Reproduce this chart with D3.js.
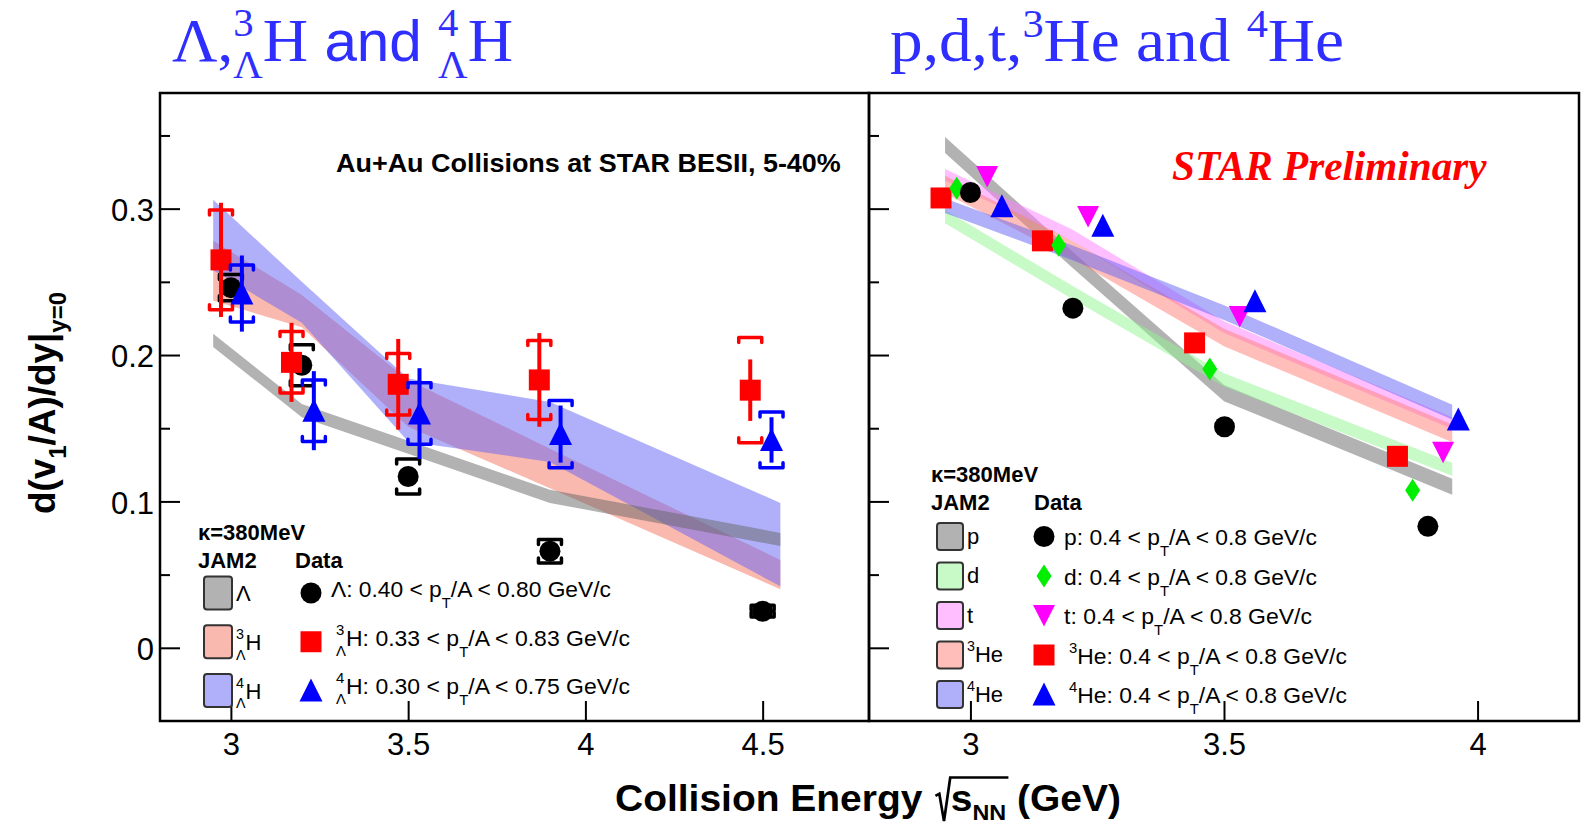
<!DOCTYPE html>
<html>
<head>
<meta charset="utf-8">
<script src="https://cdn.jsdelivr.net/npm/d3@7"></script>
<style>
  body { margin: 0; background: #fff; }
  text { white-space: pre; }
</style>
</head>
<body>
<div id="viz"></div>
<script>

// ---- data ----

// left panel: Lambda, 3LH, 4LH  (x = plotted energy, points are shifted a bit per species)
var lamX   = [3.0, 3.2, 3.5, 3.9, 4.5];
var lamY   = [0.246, 0.193, 0.117, 0.066, 0.025];
var lamSys = [0.009, 0.014, 0.012, 0.008, 0.004];

var h3X    = [2.972, 3.171, 3.472, 3.87, 4.465];
var h3Y    = [0.265, 0.195, 0.180, 0.183, 0.176];
var h3Stat = [0.039, 0.027, 0.031, 0.032, 0.021];
var h3Sys  = [0.034, 0.021, 0.021, 0.027, 0.036];

var h4X    = [3.031, 3.234, 3.532, 3.93, 4.525];
var h4Y    = [0.242, 0.162, 0.160, 0.146, 0.142];
var h4Stat = [0.026, 0.027, 0.031, 0.0195, 0.0155];
var h4Sys  = [0.0195, 0.021, 0.021, 0.023, 0.019];

// JAM2 bands, left panel
var jamLX    = [2.95, 3.2, 3.5, 3.9, 4.55];
var jamLamHi = [0.2145, 0.1665, 0.1415, 0.108, 0.0785];
var jamLamLo = [0.2055, 0.1575, 0.1325, 0.099, 0.0695];
var jamH3Hi  = [0.278, 0.241, 0.183, 0.136, 0.060];
var jamH3Lo  = [0.237, 0.219, 0.151, 0.109, 0.040];
var jamH4Hi  = [0.306, 0.250, 0.184, 0.168, 0.099];
var jamH4Lo  = [0.258, 0.222, 0.141, 0.127, 0.042];

// right panel: p, d, t, 3He, 4He
var pX   = [3.0, 3.202, 3.501, 3.902];
var pY   = [0.311, 0.232, 0.151, 0.083];
var dX   = [2.973, 3.174, 3.472, 3.872];
var dY   = [0.314, 0.275, 0.1905, 0.1076];
var tX   = [3.033, 3.232, 3.531, 3.932];
var tY   = [0.322, 0.2947, 0.2264, 0.1336];
var he3X = [2.942, 3.142, 3.442, 3.842];
var he3Y = [0.3073, 0.278, 0.2083, 0.1308];
var he4X = [3.062, 3.261, 3.561, 3.962];
var he4Y = [0.3016, 0.2884, 0.2367, 0.1559];

// JAM2 bands, right panel
var jamRX    = [2.95, 3.2, 3.5, 3.95];
var jamPHi   = [0.349, 0.271, 0.1795, 0.1155];
var jamPLo   = [0.338, 0.260, 0.1685, 0.1045];
var jamDHi   = [0.299, 0.2475, 0.1875, 0.1265];
var jamDLo   = [0.290, 0.2385, 0.1785, 0.1175];
var jamTHi   = [0.327, 0.286, 0.223, 0.1575];
var jamTLo   = [0.319, 0.278, 0.215, 0.1495];
var jamHe3Hi = [0.3225, 0.278, 0.218, 0.1525];
var jamHe3Lo = [0.3105, 0.266, 0.206, 0.1405];
var jamHe4Hi = [0.307, 0.275, 0.234, 0.166];
var jamHe4Lo = [0.297, 0.265, 0.224, 0.156];

// ticks
var yMajor  = [0, 0.1, 0.2, 0.3];
var yMinor  = [0.05, 0.15, 0.25, 0.35];
var xTicksL = [3, 3.5, 4, 4.5];
var xTicksR = [3, 3.5, 4];

// legend texts
var legLBox  = [[{t: "Λ"}], [{stack: ["3", "Λ"]}, {t: "H"}], [{stack: ["4", "Λ"]}, {t: "H"}]];
var legLData = [
  [{t: "Λ: 0.40 < p"}, {sub: "T"}, {t: "/A < 0.80 GeV/c"}],
  [{stack: ["3", "Λ"]}, {t: "H: 0.33 < p"}, {sub: "T"}, {t: "/A < 0.83 GeV/c"}],
  [{stack: ["4", "Λ"]}, {t: "H: 0.30 < p"}, {sub: "T"}, {t: "/A < 0.75 GeV/c"}]
];
var legRBox  = [[{t: "p"}], [{t: "d"}], [{t: "t"}], [{sup: "3"}, {t: "He"}], [{sup: "4"}, {t: "He"}]];
var legRData = [
  [{t: "p: 0.4 < p"}, {sub: "T"}, {t: "/A < 0.8 GeV/c"}],
  [{t: "d: 0.4 < p"}, {sub: "T"}, {t: "/A < 0.8 GeV/c"}],
  [{t: "t: 0.4 < p"}, {sub: "T"}, {t: "/A < 0.8 GeV/c"}],
  [{sup: "3"}, {t: "He: 0.4 < p"}, {sub: "T"}, {t: "/A < 0.8 GeV/c"}],
  [{sup: "4"}, {t: "He: 0.4 < p"}, {sub: "T"}, {t: "/A < 0.8 GeV/c"}]
];

// ---- styles ----
var SANS = "'Liberation Sans', Arial, Helvetica, sans-serif";
var SERIF = "'Liberation Serif', 'Times New Roman', serif";
var TITLE_BLUE = "#2e2eff";

var BAND_A = 0.5;
var cGray = "#656565", cSalmon = "#f57360", cBlue = "#6161f5";
var cGreen = "#91f591", cPinkT = "#ff7dff", cSalmonR = "#ff7d73";

// ---- svg / scales ----
var svg = d3.select("#viz").append("svg")
  .attr("width", 1583).attr("height", 827)
  .style("font-family", SANS);

var yS = d3.scaleLinear().domain([-0.05, 0.379]).range([721, 93]);
var xL = d3.scaleLinear().domain([2.8, 4.8]).range([160, 869]);
var xR = d3.scaleLinear().domain([2.8, 4.2]).range([869, 1579]);

// text helpers
function put(g, x, y, str, fs, font) {
  var t = g.append("text").attr("x", x).attr("y", y).style("font-size", fs + "px").text(str);
  if (font) t.style("font-family", font);
  return t;
}

// lays out a run of segments left to right, returns [start,end] of each one
function rich(g, x, y, segs, o) {
  var fs = o.size, k = o.k || 0.65;
  var dSub = o.sub !== undefined ? o.sub : 0.3;
  var dSup = o.sup !== undefined ? o.sup : -0.42;
  var cx = x, ext = [];
  segs.forEach(function (s) {
    var x0 = cx, w = 0, f = s.font || o.font;
    if (s.gap) {
      w = s.gap * fs;
    } else if (s.stack) {
      var a = put(g, cx, y + dSup * fs, s.stack[0], k * fs, f);
      var b = put(g, cx, y + dSub * fs, s.stack[1], k * fs, f);
      w = Math.max(a.node().getComputedTextLength(), b.node().getComputedTextLength());
    } else if (s.sub !== undefined) {
      w = put(g, cx, y + (o.subT !== undefined ? o.subT : dSub) * fs, s.sub, k * fs, f).node().getComputedTextLength();
    } else if (s.sup !== undefined) {
      w = put(g, cx, y + dSup * fs, s.sup, k * fs, f).node().getComputedTextLength();
    } else {
      w = put(g, cx, y, s.t, fs * (s.m || 1), f).node().getComputedTextLength();
    }
    cx += w;
    ext.push([x0, cx]);
  });
  return ext;
}

// squeeze / stretch a group horizontally so it spans w pixels from x0
function fit(g, x0, w) {
  var bb = g.node().getBBox();
  g.attr("transform", "translate(" + x0 + ",0) scale(" + (w / bb.width) + ",1) translate(" + (-bb.x) + ",0)");
}

// marker shapes
function markerPath(type) {
  if (type === "circle") return d3.symbol(d3.symbolCircle, Math.PI * 10.5 * 10.5)();
  if (type === "square") return "M-10.5,-10.5H10.5V10.5H-10.5Z";
  if (type === "tri") return "M0,-12L11.5,11L-11.5,11Z";
  if (type === "itri") return "M0,11L11,-10.5L-11,-10.5Z";
  if (type === "diamond") return "M0,-11.5L7.5,0L0,11.5L-7.5,0Z";
}

// ---- bands ----
function band(g, xs, xArr, hi, lo, color) {
  var area = d3.area()
    .x(function (d) { return xs(xArr[d]); })
    .y0(function (d) { return yS(lo[d]); })
    .y1(function (d) { return yS(hi[d]); });
  g.append("path").datum(d3.range(xArr.length))
    .attr("d", area).attr("fill", color).attr("fill-opacity", BAND_A);
}

var gL = svg.append("g");
band(gL, xL, jamLX, jamH3Hi, jamH3Lo, cSalmon);
band(gL, xL, jamLX, jamH4Hi, jamH4Lo, cBlue);
band(gL, xL, jamLX, jamLamHi, jamLamLo, cGray);

var gR = svg.append("g");
band(gR, xR, jamRX, jamPHi, jamPLo, cGray);
band(gR, xR, jamRX, jamDHi, jamDLo, cGreen);
band(gR, xR, jamRX, jamTHi, jamTLo, cPinkT);
band(gR, xR, jamRX, jamHe3Hi, jamHe3Lo, cSalmonR);
band(gR, xR, jamRX, jamHe4Hi, jamHe4Lo, cBlue);

// ---- error bars ----
function errs(g, xs, X, Y, stat, sys, color) {
  var idx = d3.range(X.length);
  if (stat) {
    g.selectAll(null).data(idx).join("line")
      .attr("x1", function (i) { return xs(X[i]); }).attr("x2", function (i) { return xs(X[i]); })
      .attr("y1", function (i) { return yS(Y[i] + stat[i]); })
      .attr("y2", function (i) { return yS(Y[i] - stat[i]); })
      .attr("stroke", color).attr("stroke-width", 4);
  }
  g.selectAll(null).data(idx).join("path")
    .attr("d", function (i) {
      var x = xs(X[i]), yt = yS(Y[i] + sys[i]), yb = yS(Y[i] - sys[i]), w = 11.5, h = 5;
      return "M" + (x - w) + "," + (yt + h) + "L" + (x - w) + "," + yt + "L" + (x + w) + "," + yt + "L" + (x + w) + "," + (yt + h) +
             "M" + (x - w) + "," + (yb - h) + "L" + (x - w) + "," + yb + "L" + (x + w) + "," + yb + "L" + (x + w) + "," + (yb - h);
    })
    .attr("fill", "none").attr("stroke", color).attr("stroke-width", 3.5)
    .attr("stroke-linejoin", "round").attr("stroke-linecap", "round");
}

function marks(g, xs, X, Y, type, color) {
  g.selectAll(null).data(d3.range(X.length)).join("path")
    .attr("transform", function (i) { return "translate(" + xs(X[i]) + "," + yS(Y[i]) + ")"; })
    .attr("d", markerPath(type)).attr("fill", color);
}

errs(gL, xL, lamX, lamY, null, lamSys, "#000");
marks(gL, xL, lamX, lamY, "circle", "#000");
errs(gL, xL, h3X, h3Y, h3Stat, h3Sys, "#ff0000");
marks(gL, xL, h3X, h3Y, "square", "#ff0000");
errs(gL, xL, h4X, h4Y, h4Stat, h4Sys, "#0000ff");
marks(gL, xL, h4X, h4Y, "tri", "#0000ff");

marks(gR, xR, he3X, he3Y, "square", "#ff0000");
marks(gR, xR, dX, dY, "diamond", "#00ee00");
marks(gR, xR, pX, pY, "circle", "#000");
marks(gR, xR, tX, tY, "itri", "#ff00ff");
marks(gR, xR, he4X, he4Y, "tri", "#0000ff");

// ---- axes ----
function styleAxis(a) {
  a.select(".domain").remove();
  a.selectAll(".tick line").attr("stroke", "#000").attr("stroke-width", 2);
  a.selectAll(".tick text").attr("fill", "#000").style("font-size", "31px").style("font-family", SANS);
}

var ayL = svg.append("g").attr("transform", "translate(160,0)")
  .call(d3.axisLeft(yS).tickValues(yMajor).tickSize(-20).tickPadding(6)
    .tickFormat(function (d) { return d === 0 ? "0" : d3.format(".1f")(d); }));
styleAxis(ayL);
ayL.selectAll(".tick text").attr("dy", "0.38em");
styleAxis(svg.append("g").attr("transform", "translate(160,0)")
  .call(d3.axisLeft(yS).tickValues(yMinor).tickSize(-10).tickFormat("")));

styleAxis(svg.append("g").attr("transform", "translate(869,0)")
  .call(d3.axisLeft(yS).tickValues(yMajor).tickSize(-20).tickFormat("")));
styleAxis(svg.append("g").attr("transform", "translate(869,0)")
  .call(d3.axisLeft(yS).tickValues(yMinor).tickSize(-10).tickFormat("")));

styleAxis(svg.append("g").attr("transform", "translate(0,721)")
  .call(d3.axisBottom(xL).tickValues(xTicksL).tickSize(-20).tickPadding(12).tickFormat(function (d) { return String(d); })));
styleAxis(svg.append("g").attr("transform", "translate(0,721)")
  .call(d3.axisBottom(xR).tickValues(xTicksR).tickSize(-20).tickPadding(12).tickFormat(function (d) { return String(d); })));

// frames
svg.append("rect").attr("x", 160).attr("y", 93).attr("width", 709).attr("height", 628)
  .attr("fill", "none").attr("stroke", "#000").attr("stroke-width", 2.5);
svg.append("rect").attr("x", 869).attr("y", 93).attr("width", 710).attr("height", 628)
  .attr("fill", "none").attr("stroke", "#000").attr("stroke-width", 2.5);

// ---- axis titles ----
var yt = svg.append("g").attr("transform", "translate(55,514) rotate(-90)");
var ytIn = yt.append("g").style("font-weight", "bold");
rich(ytIn, 0, 0, [{t: "d(v"}, {sub: "1"}, {t: "/A)/dy|"}, {sub: "y=0"}], {size: 36, sub: 0.3});
fit(ytIn, 0, 222);

var xt = svg.append("g").style("font-weight", "bold");
var xe = rich(xt, 0, 811, [{t: "Collision Energy "}, {gap: 0.45}, {t: "s"}, {sub: "NN"}, {t: " (GeV)"}],
  {size: 36, sub: 0.24, k: 0.6});
var rx = xe[1][0] + 2, fsX = 36;
xt.append("path")
  .attr("d", "M" + (rx) + "," + (811 - 0.42 * fsX) + "L" + (rx + 0.1 * fsX) + "," + (811 - 0.48 * fsX) +
    "L" + (rx + 0.22 * fsX) + "," + (811 + 0.28 * fsX) + "L" + (rx + 0.38 * fsX) + "," + (811 - 0.93 * fsX) +
    "L" + (xe[3][1] + 2) + "," + (811 - 0.93 * fsX))
  .attr("fill", "none").attr("stroke", "#000").attr("stroke-width", 2.5);
fit(xt, 615, 506);

// ---- panel titles ----
var t1 = svg.append("g").attr("fill", TITLE_BLUE);
rich(t1, 0, 61, [{t: "Λ,", font: SERIF}, {stack: ["3", "Λ"], font: SERIF}, {t: "H", font: SERIF},
  {t: " and ", font: SANS, m: 0.93}, {stack: ["4", "Λ"], font: SERIF}, {t: "H", font: SERIF}],
  {size: 62, sub: 0.28, sup: -0.4});
fit(t1, 172, 341);

var t2 = svg.append("g").attr("fill", TITLE_BLUE).style("font-family", SERIF);
rich(t2, 0, 61, [{t: "p,d,t,"}, {sup: "3"}, {t: "He and "}, {sup: "4"}, {t: "He"}],
  {size: 62, sup: -0.38, font: SERIF});
fit(t2, 890, 454);

// ---- in-plot labels ----
var lab = svg.append("g").style("font-weight", "bold");
put(lab, 0, 172, "Au+Au Collisions at STAR BESII, 5-40%", 25);
fit(lab, 336, 505);

var star = svg.append("g");
put(star, 0, 180, "STAR Preliminary", 42, SERIF)
  .attr("fill", "#ff0000").style("font-weight", "bold").style("font-style", "italic");
fit(star, 1172, 315);

// ---- legends ----
function legend(o) {
  var g = svg.append("g");
  put(g, o.x0, o.kapY, "κ=380MeV", 22).style("font-weight", "bold");
  put(g, o.x0, o.headY, "JAM2", 22).style("font-weight", "bold");
  put(g, o.dataX, o.headY, "Data", 22).style("font-weight", "bold");
  o.fills.forEach(function (f, i) {
    var cy = o.rowY(i);
    g.append("rect").attr("x", o.boxX).attr("y", cy - o.boxH / 2).attr("width", o.boxW).attr("height", o.boxH)
      .attr("rx", 3).attr("fill", f).attr("stroke", "#333").attr("stroke-width", 2);
    var gl = g.append("g");
    rich(gl, o.boxX + o.boxW + 4, cy + o.labDy, o.boxLabels[i], {size: 22, sub: 0.45, sup: -0.5});
    g.append("path").attr("transform", "translate(" + o.markX + "," + cy + ")")
      .attr("d", markerPath(o.shapes[i])).attr("fill", o.colors[i]);
    var gt = g.append("g");
    rich(gt, 0, cy + o.txtDy, o.texts[i], {size: 22, sub: 0.45, sup: -0.5, subT: 0.5});
    fit(gt, o.txtX[i], o.txtW[i]);
  });
}

legend({
  x0: 198, kapY: 540, headY: 568, dataX: 295,
  boxX: 204, boxW: 28, boxH: 33, markX: 311, labDy: 8, txtDy: 4,
  rowY: function (i) { return 593 + 48.75 * i; },
  fills: ["#b2b2b2", "#fab9af", "#b0b0fa"],
  boxLabels: legLBox,
  shapes: ["circle", "square", "tri"], colors: ["#000", "#ff0000", "#0000ff"],
  texts: legLData, txtX: [331, 336, 336], txtW: [280, 294, 294]
});

legend({
  x0: 931, kapY: 482, headY: 510, dataX: 1034,
  boxX: 937, boxW: 26, boxH: 27, markX: 1044, labDy: 7, txtDy: 9,
  rowY: function (i) { return 536.5 + 39.5 * i; },
  fills: ["#b2b2b2", "#c8fac8", "#ffbeff", "#ffbeb9", "#b0b0fa"],
  boxLabels: legRBox,
  shapes: ["circle", "diamond", "itri", "square", "tri"],
  colors: ["#000", "#00ee00", "#ff00ff", "#ff0000", "#0000ff"],
  texts: legRData, txtX: [1064, 1064, 1064, 1069, 1069], txtW: [253, 253, 248, 278, 278]
});

</script>
</body>
</html>
